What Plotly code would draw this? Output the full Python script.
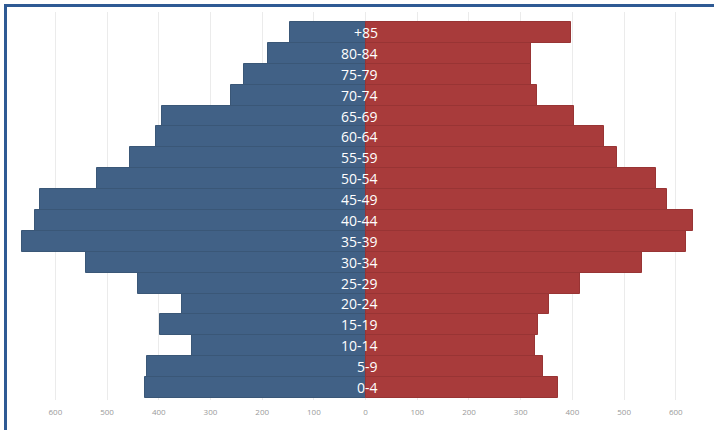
import plotly.graph_objects as go

age_groups = ["0-4", "5-9", "10-14", "15-19", "20-24", "25-29", "30-34", "35-39",
              "40-44", "45-49", "50-54", "55-59", "60-64", "65-69", "70-74",
              "75-79", "80-84", "+85"]
left_values = [427, 422, 336, 398, 356, 441, 540, 665, 640, 630, 520, 455,
               406, 394, 261, 236, 188, 147]
right_values = [373, 343, 327, 333, 354, 414, 534, 619, 634, 582, 561, 486,
                462, 404, 331, 319, 319, 397]
tick_values = [-600, -500, -400, -300, -200, -100, 0, 100, 200, 300, 400, 500, 600]
tick_labels = ["600", "500", "400", "300", "200", "100", "0", "100", "200", "300",
               "400", "500", "600"]

BLUE = "#416186"
RED = "#A83B3B"

ypos = list(range(len(age_groups)))

fig = go.Figure()
fig.add_trace(go.Bar(
    y=ypos, x=[-v for v in left_values], orientation="h",
    marker=dict(color=BLUE, line=dict(color="#3a5777", width=1)),
    width=1, hoverinfo="skip", showlegend=False))
fig.add_trace(go.Bar(
    y=ypos, x=right_values, orientation="h",
    marker=dict(color=RED, line=dict(color="#983434", width=1)),
    width=1, hoverinfo="skip", showlegend=False))

for i, lab in enumerate(age_groups):
    fig.add_annotation(x=28, y=i, text=lab, showarrow=False, xanchor="right",
                       yanchor="middle", font=dict(color="white", size=14,
                                                   family="Open Sans"))

fig.update_layout(
    width=714, height=430,
    margin=dict(l=14, r=2, t=12, b=30),
    barmode="overlay", bargap=0,
    plot_bgcolor="white", paper_bgcolor="white",
    xaxis=dict(range=[-680, 670], tickvals=tick_values, ticktext=tick_labels,
               showgrid=True, gridcolor="#ebebeb", gridwidth=1, zeroline=False,
               tickfont=dict(size=8, color="#9a9a9a", family="Open Sans"),
               ticks="", showline=False, fixedrange=True, ticklabelstandoff=6),
    yaxis=dict(range=[-0.6, 17.98], showticklabels=False, showgrid=False,
               zeroline=False, showline=False, fixedrange=True),
    shapes=[
        dict(type="line", xref="paper", yref="paper",
             x0=(5.5 - 14) / 698, x1=(5.5 - 14) / 698,
             y0=1 + 5.5 / 388, y1=-0.1,
             line=dict(color="#2E5A94", width=3)),
        dict(type="line", xref="paper", yref="paper",
             x0=(4 - 14) / 698, x1=1.01,
             y0=1 + 6.5 / 388, y1=1 + 6.5 / 388,
             line=dict(color="#2E5A94", width=3)),
    ],
)

fig.write_html("out.html", config={"displayModeBar": False},
               post_script="document.body.style.margin='0';document.body.style.overflow='hidden';")
